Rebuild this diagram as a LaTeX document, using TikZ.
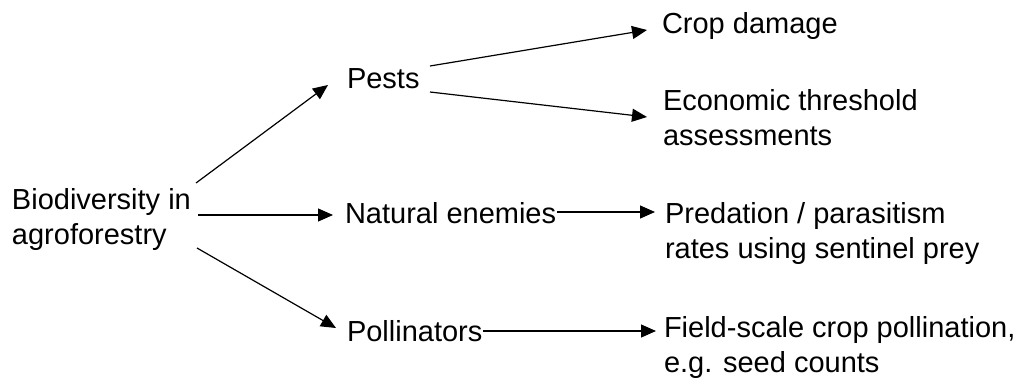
\documentclass[tikz,border=0pt]{standalone}
\usepackage{fontspec}
\setmainfont{Liberation Sans}
\usetikzlibrary{arrows.meta}
\begin{document}
\begin{tikzpicture}[x=1pt,y=-1pt,
  lbl/.style={anchor=base west,inner sep=0pt,outer sep=0pt,align=left,font=\fontsize{29}{35}\selectfont},
  arr/.style={line width=1.2pt,-{Triangle[length=15pt,width=13pt]}}]
\useasboundingbox[fill=white] (0,0) rectangle (1020,381);
% multi-line nodes: base = baseline of last line
\node[lbl] (bio) at (12,244) {Biodiversity in\\agroforestry};
\node[lbl] (pests) at (347,88) {Pests};
\node[lbl] (nat) at (345,223) {Natural enemies};
\node[lbl] (poll) at (347,341) {Pollinators};
\node[lbl] (crop) at (662,33) {Crop damage};
\node[lbl] (econ) at (663,145) {Economic threshold\\assessments};
\node[lbl] (pred) at (665,258) {Predation / parasitism\\rates using sentinel prey};
\node[lbl] (field) at (664,372) {Field-scale crop pollination,\\e.g. seed counts};
\draw[arr] ([shift={(184,-61)}]bio.base west) -- ([shift={(-19,-3)}]pests.base west);
\draw[arr] ([shift={(186,-29)}]bio.base west) -- ([shift={(-12,-8)}]nat.base west);
\draw[arr] ([shift={(185,4)}]bio.base west) -- ([shift={(-11,-13)}]poll.base west);
\draw[arr] ([shift={(83,-22)}]pests.base west) -- ([shift={(-15,-3)}]crop.base west);
\draw[arr] ([shift={(83,4)}]pests.base west) -- ([shift={(-16,-28)}]econ.base west);
\draw[arr] ([shift={(212,-11)}]nat.base west) -- ([shift={(-10,-46)}]pred.base west);
\draw[arr] ([shift={(136,-10)}]poll.base west) -- ([shift={(-8,-41)}]field.base west);
\end{tikzpicture}
\end{document}
